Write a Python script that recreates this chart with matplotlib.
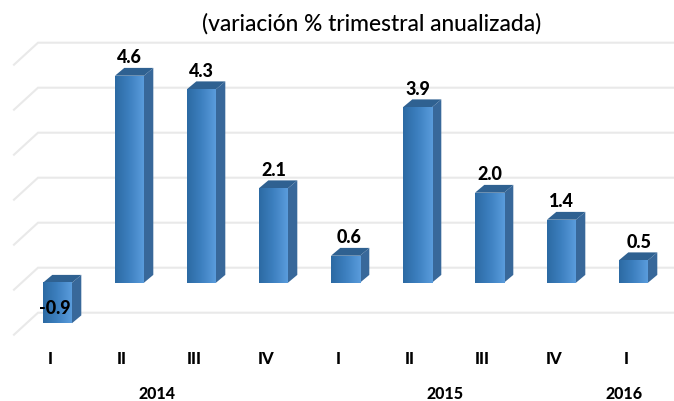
import numpy as np
import matplotlib
matplotlib.use("Agg")
import matplotlib.pyplot as plt
from matplotlib.patches import Polygon
from matplotlib.colors import LinearSegmentedColormap

title = "(variación % trimestral anualizada)"
quarters = ["I", "II", "III", "IV", "I", "II", "III", "IV", "I"]
values = [-0.9, 4.6, 4.3, 2.1, 0.6, 3.9, 2.0, 1.4, 0.5]
labels = ["-0.9", "4.6", "4.3", "2.1", "0.6", "3.9", "2.0", "1.4", "0.5"]
years = ["2014", "2015", "2016"]
year_pos = [1.38, 5.38, 7.87]
grid_vals = [-1, 0, 1, 2, 3, 4, 5]

W, H = 674, 402
STEP, UNIT = 72.0, 45.0
X0, Y0 = 57.5, 283.7
FONT = ["Lato", "DejaVu Sans"]

fig = plt.figure(figsize=(W / 100, H / 100), dpi=100)
ax = fig.add_axes([0, 0, 1, 1])
ax.set_xlim(-X0 / STEP, (W - X0) / STEP)
ax.set_ylim((Y0 - H) / UNIT, Y0 / UNIT)
ax.axis("off")

def dx(p): return p / STEP
def dy(p): return p / UNIT

bw = dx(29)
ox, oy = dx(9.3), dy(7.8)
cmap = LinearSegmentedColormap.from_list("f", ["#2c6aa3", "#3d80c0", "#5a9cdc"])
grad = np.linspace(0, 1, 64).reshape(1, -1)

# wall and floor lines
gx0, gx1, gx2 = (14 - X0) / STEP, (38 - X0) / STEP, (W - X0) / STEP
lift, drop = dy(15), dy(22)
for g in grid_vals:
    ax.plot([gx0, gx1, gx2], [g + lift - drop, g + lift, g + lift],
            color="#e9e9e9", lw=1.5, zorder=1, solid_joinstyle="miter")

for i, v in enumerate(values):
    l, r = i - bw / 2, i + bw / 2
    lo, hi = min(v, 0), max(v, 0)
    ax.add_patch(Polygon([(r, lo), (r + ox, lo + oy), (r + ox, hi + oy), (r, hi)],
                         fc="#38689a", ec="none", zorder=3))
    ax.add_patch(Polygon([(l, hi), (l + ox, hi + oy), (r + ox, hi + oy), (r, hi)],
                         fc="#2f6191", ec="none", zorder=3))
    ax.imshow(grad, extent=(l, r, lo, hi), cmap=cmap, aspect="auto", zorder=4,
              interpolation="bilinear")
    nudge = {4: dx(4), 8: dx(6), 0: dx(-3)}.get(i, 0)
    y = v + dy(19) if v >= 0 else v + dy(16)
    ax.text(i + nudge, y, labels[i], ha="center", va="center", fontsize=13,
            fontweight=900, family=FONT, color="#000000", zorder=6)
    ax.text(i - dx(7.5), (Y0 - 359) / UNIT, quarters[i], ha="center", va="center",
            fontsize=12, fontweight=900, family=FONT, color="#000000")

ax.set_xlim(-X0 / STEP, (W - X0) / STEP)
ax.set_ylim((Y0 - H) / UNIT, Y0 / UNIT)

for y_, p in zip(years, year_pos):
    ax.text(p, (Y0 - 394) / UNIT, y_, ha="center", va="center", fontsize=11.5,
            fontweight=900, family=FONT, color="#000000")

ax.text((372 - X0) / STEP, (Y0 - 24) / UNIT, title, ha="center", va="center",
        fontsize=16.4, fontweight=500, family=FONT, color="#000000")

fig.savefig("out.png", dpi=100)
